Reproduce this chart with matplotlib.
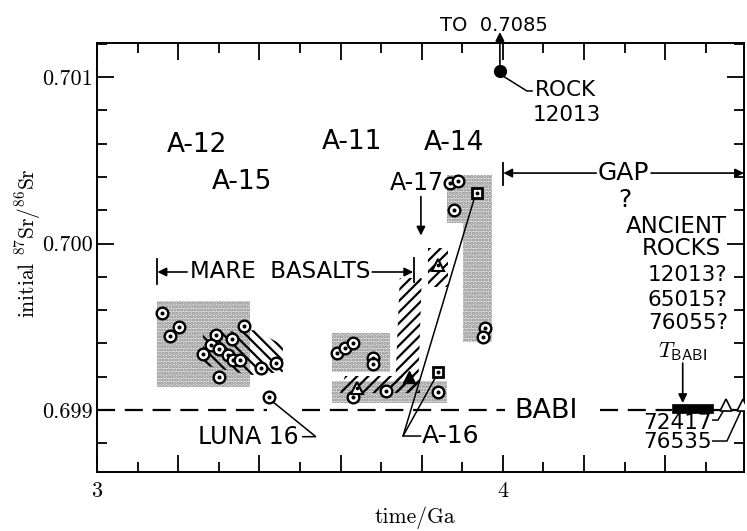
import matplotlib
matplotlib.use("Agg")
import matplotlib.pyplot as plt
from matplotlib.patches import Rectangle, Polygon
import numpy as np

plt.rcParams['lines.scale_dashes'] = False
plt.rcParams['hatch.linewidth'] = 1.6
plt.rcParams['mathtext.fontset'] = 'cm'

SANS = 'DejaVu Sans'
SERIF = 'cmr10'

# ---------------- data ----------------
BABI = 0.69900                     # basaltic achondrite best initial

# Apollo 12 / 15 basalts (age in Ga, initial 87Sr/86Sr)
a12_t = [3.161, 3.203, 3.181, 3.363, 3.293, 3.332, 3.280, 3.301, 3.262,
         3.323, 3.336, 3.352, 3.301, 3.404, 3.441]
a12_r = [0.699584, 0.699500, 0.699443, 0.699506, 0.699452, 0.699425,
         0.699389, 0.699365, 0.699335, 0.699330, 0.699300, 0.699300,
         0.699196, 0.699250, 0.699280]

# Luna 16
luna_t = [3.424]
luna_r = [0.699080]

# Apollo 11 / 17 basalts
a11_t = [3.592, 3.611, 3.631, 3.681, 3.681, 3.631, 3.711, 3.841]
a11_r = [0.699341, 0.699371, 0.699404, 0.699311, 0.699276, 0.699080,
         0.699116, 0.699110]

# Apollo 14 basalts
a14_t = [3.870, 3.889, 3.879, 3.956, 3.952]
a14_r = [0.700363, 0.700375, 0.700201, 0.699491, 0.699437]

# open triangles (Apollo 17) and ancient rocks 72417, 76535
tri_t = [3.641, 3.841]
tri_r = [0.699130, 0.699871]
old_t = [4.549, 4.592]
old_r = [0.699030, 0.699030]

# filled triangle and squares (Apollo 16)
ftri_t = [3.769]
ftri_r = [0.699196]
sq_t = [3.841, 3.935]
sq_r = [0.699226, 0.700305]

# rock 12013
rock_t = [3.993]
rock_r = [0.701036]

# stippled age/ratio fields: (t0, t1, r0, r1)
fields = [
    (3.148, 3.377, 0.699138, 0.699655),
    (3.579, 3.722, 0.699228, 0.699462),
    (3.579, 3.862, 0.699042, 0.699174),
    (3.862, 3.973, 0.700123, 0.700411),
    (3.902, 3.973, 0.699408, 0.700123),
]

# hatched fields (polygons in t, r)
hatch_a15 = [(3.261, 0.699462), (3.389, 0.699480), (3.458, 0.699390),
             (3.458, 0.699228), (3.377, 0.699210), (3.261, 0.699270)]
hatch_a17_band = [(3.746, 0.699793), (3.800, 0.699793), (3.791, 0.699108),
                  (3.734, 0.699108)]
hatch_a17_low = [(3.611, 0.699204), (3.796, 0.699204), (3.796, 0.699102),
                 (3.598, 0.699102)]
hatch_a17_top = [(3.815, 0.699973), (3.865, 0.699973), (3.865, 0.699739),
                 (3.815, 0.699739)]

# T_BABI interval
tbabi = (4.416, 4.517, 0.698982, 0.699036)

# ---------------- figure ----------------
fig = plt.figure(figsize=(7.47, 5.31), dpi=100)
ax = fig.add_axes([97 / 747, 59 / 531, 647 / 747, 429 / 531])
ax.set_xlim(3.0, 4.594)
ax.set_ylim(0.698628, 0.701204)

for t0, t1, r0, r1 in fields:
    ax.add_patch(Rectangle((t0, r0), t1 - t0, r1 - r0, facecolor='#e6e6e6',
                           edgecolor='#858585', lw=0, hatch='.....', zorder=1))

ax.add_patch(Polygon(hatch_a15, closed=True, facecolor='none', edgecolor='k',
                     lw=0, hatch='\\\\\\', zorder=2))
for poly in (hatch_a17_band, hatch_a17_low, hatch_a17_top):
    ax.add_patch(Polygon(poly, closed=True, facecolor='none', edgecolor='k',
                         lw=0, hatch='///', zorder=2))

ax.add_patch(Rectangle((tbabi[0], tbabi[2]), tbabi[1] - tbabi[0],
                       tbabi[3] - tbabi[2], facecolor='k', edgecolor='k',
                       lw=0.5, zorder=3))

# BABI dashed reference line
dash_kw = dict(color='k', lw=1.6, dashes=(13, 7), zorder=2)
for a, b in [(3.0, 3.419), (3.505, 4.005), (4.239, 4.416)]:
    ax.plot([a, b], [BABI, BABI], **dash_kw)
ax.plot([4.517, 4.594], [BABI, BABI], color='k', lw=1.6, zorder=2)


def dotted_circles(t, r, **kw):
    ax.plot(t, r, ls='none', marker='o', ms=8.4, mfc='white', mec='k',
            mew=1.7, zorder=4, **kw)
    ax.plot(t, r, ls='none', marker='o', ms=1.9, mfc='k', mec='k', zorder=5)


dotted_circles(a12_t, a12_r)
dotted_circles(luna_t, luna_r)
dotted_circles(a11_t, a11_r)
dotted_circles(a14_t, a14_r)

ax.plot(tri_t, tri_r, ls='none', marker='^', ms=8.5, mfc='white', mec='k',
        mew=1.5, zorder=4)
ax.plot(tri_t, tri_r, ls='none', marker='o', ms=1.6, mfc='k', mec='k', zorder=5)
ax.plot(old_t, old_r, ls='none', marker='^', ms=9, mfc='white', mec='k',
        mew=1.2, zorder=4)
ax.plot(ftri_t, ftri_r, ls='none', marker='^', ms=8.5, mfc='k', mec='k',
        zorder=4)
ax.plot(sq_t, sq_r, ls='none', marker='s', ms=7, mfc='white', mec='k',
        mew=2.0, zorder=4)
ax.plot(sq_t, sq_r, ls='none', marker='o', ms=1.8, mfc='k', mec='k', zorder=5)
ax.plot(rock_t, rock_r, ls='none', marker='o', ms=8.5, mfc='k', mec='k',
        zorder=4)


def arrow(tail, head):
    ax.annotate('', xy=head, xytext=tail,
                arrowprops=dict(arrowstyle='-|>', color='k', lw=1.2,
                                mutation_scale=13, shrinkA=0, shrinkB=0),
                annotation_clip=False, zorder=6)


def line(pts, lw=1.1):
    xs, ys = zip(*pts)
    ax.plot(xs, ys, color='k', lw=lw, zorder=3, clip_on=False,
            solid_joinstyle='miter')


# MARE BASALTS bracket
line([(3.148, 0.699905), (3.148, 0.699757)], lw=1.3)
arrow((3.222, 0.699829), (3.149, 0.699829))
arrow((3.678, 0.699829), (3.779, 0.699829))
line([(3.781, 0.699913), (3.781, 0.699769)], lw=1.3)

# A-17 pointer
arrow((3.798, 0.700282), (3.798, 0.700048))

# GAP bracket
line([(4.0, 0.700483), (4.0, 0.700351)], lw=1.3)
arrow((4.230, 0.700423), (4.001, 0.700423))
arrow((4.365, 0.700423), (4.594, 0.700423))

# T_BABI pointer
arrow((4.443, 0.699282), (4.443, 0.699042))

# rock 12013 goes off scale
arrow((3.9926, 0.701075), (3.9926, 0.701270))
line([(4.004, 0.701000), (4.059, 0.700916), (4.072, 0.700916)])

# leaders
line([(3.431, 0.699054), (3.539, 0.698840), (3.507, 0.698840)])
line([(3.797, 0.698844), (3.754, 0.698844), (3.929, 0.700267)])
line([(3.754, 0.698844), (3.833, 0.699192)])
line([(4.517, 0.698940), (4.530, 0.698940), (4.545, 0.699003)])
line([(4.517, 0.698814), (4.552, 0.698814), (4.588, 0.699003)])

# ---------------- labels ----------------
def label(t, r, s, size, ha='center', **kw):
    ax.text(t, r, s, fontsize=size, ha=ha, va='center', family=SANS,
            zorder=7, clip_on=False, **kw)


label(3.2475, 0.700592, 'A-12', 19)
label(3.3571, 0.700369, 'A-15', 19)
label(3.6281, 0.700610, 'A-11', 19)
label(3.8793, 0.700604, 'A-14', 19)
label(3.7882, 0.700363, 'A-17', 17)
label(3.4507, 0.699829, 'MARE  BASALTS', 16.5)
label(3.3719, 0.698838, 'LUNA 16', 17)
label(3.8005, 0.698844, 'A-16', 18, ha='left')
label(4.1059, 0.698994, 'BABI', 19.5)
label(4.2980, 0.700423, 'GAP', 18)
label(4.3005, 0.700262, '?', 18)
label(4.4286, 0.700105, 'ANCIENT', 16.5)
label(4.4384, 0.699973, 'ROCKS', 16.5)
label(4.4557, 0.699811, '12013?', 15.5)
label(4.4557, 0.699661, '65015?', 15.5)
label(4.4557, 0.699523, '76055?', 15.5)
label(4.4433, 0.699350, r'$T_{\mathsf{BABI}}$', 16)
label(4.5148, 0.698922, '72417', 15.5, ha='right')
label(4.5148, 0.698808, '76535', 15.5, ha='right')
label(4.0788, 0.700922, 'ROCK', 15.5, ha='left')
label(4.0739, 0.700772, '12013', 15.5, ha='left')
label(3.9778, 0.701312, 'TO  0.7085', 14)

# ---------------- axes styling ----------------
for sp in ax.spines.values():
    sp.set_linewidth(1.4)

ax.set_xticks(np.round(np.arange(3.0, 4.41, 0.2), 2))
ax.set_xticklabels(['3', '', '', '', '', '4', '', ''])
ax.set_xticks(np.round(np.arange(3.1, 4.6, 0.2), 2), minor=True)
ax.set_yticks([0.699, 0.700, 0.701])
ax.set_yticklabels(['0.699', '0.700', '0.701'])
ax.set_yticks(np.round(np.arange(0.6988, 0.7012, 0.0002), 4), minor=True)

ax.tick_params(which='both', direction='in', top=True, right=True,
               width=1.3, labelsize=16)
ax.tick_params(which='major', length=12)
ax.tick_params(which='minor', length=7)
ax.tick_params(axis='x', pad=7)
ax.tick_params(axis='y', pad=3)
for lab in ax.get_xticklabels() + ax.get_yticklabels():
    lab.set_family(SERIF)

fig.text(415 / 747, 1 - 518 / 531, 'time/Ga', family=SERIF, fontsize=15.5,
         ha='center', va='center')
fig.text(28 / 747, 1 - 243 / 531, r'initial $^{87}$Sr/$^{86}$Sr',
         family=SERIF, fontsize=15.5, ha='center', va='center', rotation=90)

fig.savefig('out.png', dpi=100)
